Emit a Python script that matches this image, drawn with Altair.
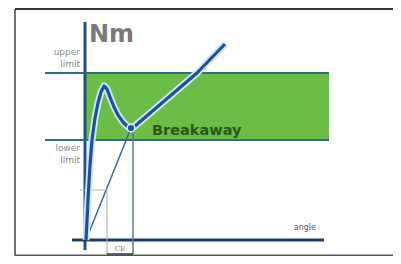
import altair as alt
import pandas as pd

# Coordinate frame: angle (x) and torque (y), origin at the axes crossing
X_DOMAIN = [-77, 308]
Y_DOMAIN = [-16, 232]

LOWER_LIMIT = 100
UPPER_LIMIT = 167
BAND_END = 244

# torque-angle curve
curve_angle = [1, 3, 5, 7, 10, 13, 16, 19, 22, 25, 29, 33, 38, 42, 46, 50, 112, 140]
curve_torque = [0, 40, 75, 100, 122, 137, 148, 154, 151, 143, 133, 125, 118, 114, 112, 114, 167, 196]

breakaway_angle = [46]
breakaway_torque = [112]

# straight segments: x, y, x2, y2, colour, width
seg_x = [-70, -70, -70, 0, -13, -40, -40, 1, 22, 48, -5, 22]
seg_y = [-15.5, -15.5, 231, -10, 0, UPPER_LIMIT, LOWER_LIMIT, 0, 50, 112, 50, -14]
seg_x2 = [-70, 320, 320, 0, 239, BAND_END, BAND_END, 46, 22, 48, 22, 48]
seg_y2 = [231, -15.5, 231, 218, 0, UPPER_LIMIT, LOWER_LIMIT, 112, -14, -14, 50, -14]
seg_color = ["#444444", "#555555", "#333333", "#1f4e8a", "#1b3c66", "#2f6a8e", "#2f6a8e",
             "#3a6a9a", "#9aaabb", "#5a7a9a", "#a8b8c8", "#333355"]
seg_width = [1.5, 2, 2, 3, 3, 2, 2, 1.5, 1, 1.5, 1, 1.5]

# labels
right_text = ["upper", "limit", "lower", "limit", "angle"]
right_x = [-5, -5, -5, -5, 231]
right_y = [185, 173, 89, 77, 10]
right_size = [9, 9, 9, 9, 8]
right_color = ["#8a8a8a", "#8a8a8a", "#8a8a8a", "#8a8a8a", "#5a5060"]

xs = alt.Scale(domain=X_DOMAIN, nice=False, zero=False)
ys = alt.Scale(domain=Y_DOMAIN, nice=False, zero=False)

band_df = pd.DataFrame({"x": [0], "x2": [BAND_END], "y": [LOWER_LIMIT], "y2": [UPPER_LIMIT]})
band = alt.Chart(band_df).mark_rect(color="#6cbd45").encode(
    x=alt.X("x:Q", scale=xs, axis=None), x2="x2:Q",
    y=alt.Y("y:Q", scale=ys, axis=None), y2="y2:Q")

seg_df = pd.DataFrame({"x": seg_x, "y": seg_y, "x2": seg_x2, "y2": seg_y2,
                       "c": seg_color, "w": seg_width})
segs = alt.Chart(seg_df).mark_rule().encode(
    x=alt.X("x:Q", scale=xs, axis=None), x2="x2:Q",
    y=alt.Y("y:Q", scale=ys, axis=None), y2="y2:Q",
    color=alt.Color("c:N", scale=None),
    strokeWidth=alt.StrokeWidth("w:Q", scale=None))

curve_df = pd.DataFrame({"a": curve_angle, "t": curve_torque, "o": list(range(len(curve_angle)))})
halo = alt.Chart(curve_df).mark_line(color="#cfe6f3", strokeWidth=7, strokeJoin="round").encode(
    x=alt.X("a:Q", scale=xs, axis=None), y=alt.Y("t:Q", scale=ys, axis=None), order="o:Q")
line = alt.Chart(curve_df).mark_line(color="#1f4f9f", strokeWidth=3.2, strokeJoin="round").encode(
    x=alt.X("a:Q", scale=xs, axis=None), y=alt.Y("t:Q", scale=ys, axis=None), order="o:Q")

bp_df = pd.DataFrame({"a": breakaway_angle, "t": breakaway_torque})
bp = alt.Chart(bp_df).mark_point(filled=True, color="#1f4f9f", size=60, stroke="#dff0fa",
                                 strokeWidth=1.5, opacity=1).encode(
    x=alt.X("a:Q", scale=xs, axis=None), y=alt.Y("t:Q", scale=ys, axis=None))

nm_df = pd.DataFrame({"x": [4], "y": [198], "t": ["Nm"]})
nm = alt.Chart(nm_df).mark_text(font="DejaVu Sans", fontWeight="bold", fontSize=24,
                                color="#7a7a7a", align="left", baseline="alphabetic").encode(
    x=alt.X("x:Q", scale=xs, axis=None), y=alt.Y("y:Q", scale=ys, axis=None), text="t:N")

br_df = pd.DataFrame({"x": [67], "y": [105], "t": ["Breakaway"]})
br = alt.Chart(br_df).mark_text(font="DejaVu Sans", fontWeight="bold", fontSize=14.5,
                                color="#2a5418", align="left", baseline="alphabetic").encode(
    x=alt.X("x:Q", scale=xs, axis=None), y=alt.Y("y:Q", scale=ys, axis=None), text="t:N")

rt_df = pd.DataFrame({"x": right_x, "y": right_y, "t": right_text, "s": right_size, "c": right_color})
rt = alt.Chart(rt_df).mark_text(font="DejaVu Sans", align="right", baseline="alphabetic").encode(
    x=alt.X("x:Q", scale=xs, axis=None), y=alt.Y("y:Q", scale=ys, axis=None), text="t:N",
    size=alt.Size("s:Q", scale=None), color=alt.Color("c:N", scale=None))

ce_df = pd.DataFrame({"x": [35], "y": [-11], "t": ["CE"]})
ce = alt.Chart(ce_df).mark_text(font="DejaVu Serif", fontSize=7, color="#777777",
                                align="center", baseline="alphabetic").encode(
    x=alt.X("x:Q", scale=xs, axis=None), y=alt.Y("y:Q", scale=ys, axis=None), text="t:N")

chart = alt.layer(band, segs, halo, line, bp, nm, br, rt, ce).properties(
    width=385, height=248, padding=0, autosize=alt.AutoSizeParams(type="none")
).configure_view(stroke=None)

chart.save("out.html", embed_options={"renderer": "svg", "actions": False})
